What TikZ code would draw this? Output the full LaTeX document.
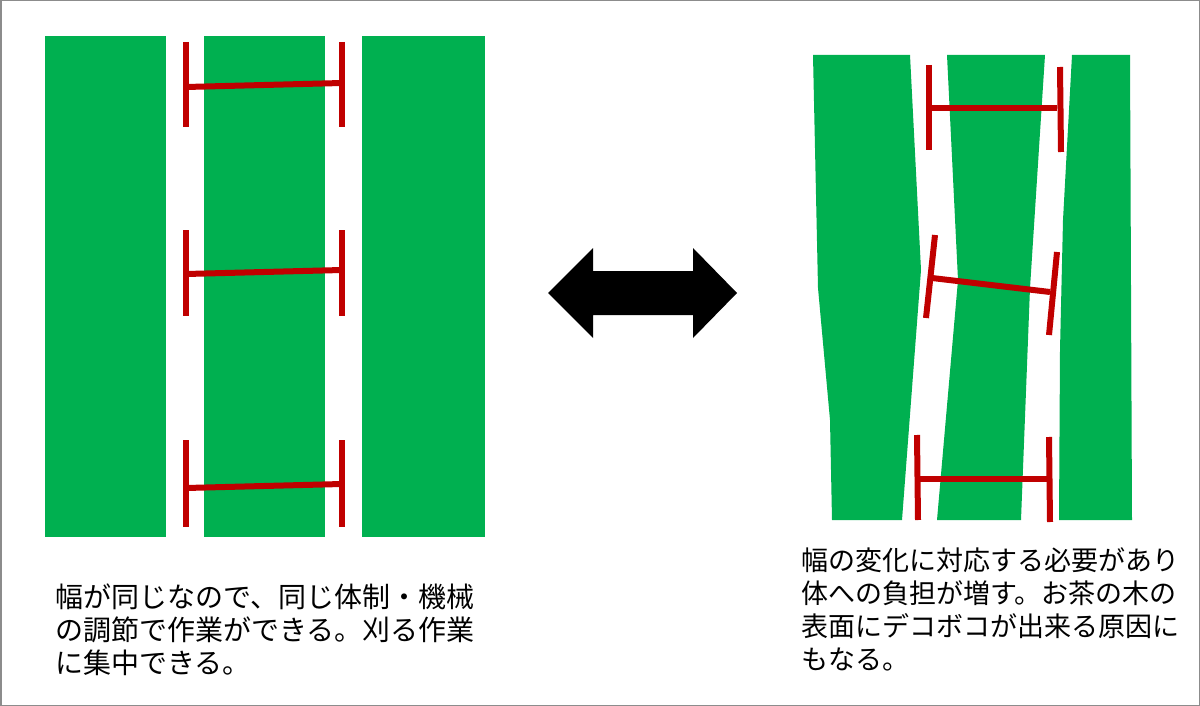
\documentclass[tikz,border=0pt]{standalone}
\usepackage{fontspec}
\newfontfamily\jpfont{Noto Sans CJK JP}
\usetikzlibrary{calc}
\definecolor{rowgreen}{RGB}{0,176,80}
\definecolor{markred}{RGB}{192,0,0}

\begin{document}
\begin{tikzpicture}[x=1pt,y=-1pt,
  row/.style={fill=rowgreen},
  gauge/.style={draw=markred,line width=6pt},
  note/.style={anchor=base west,inner sep=0pt,align=left,
    font=\jpfont\fontsize{27}{33}\selectfont}]
  \useasboundingbox (0,0) rectangle (1200,706);
  \draw[black!45,line width=1.5pt](0.75,0.75) rectangle (1199.25,705.25);

  % left: straight rows
  \fill[row](45,36) rectangle (166,537);
  \fill[row](204,36) rectangle (325,537);
  \fill[row](362,36) rectangle (485,537);
  \foreach \t/\m/\b in {42/85/127, 230/272/316, 440/486/527}{
    \draw[gauge](186,\t)--(186,\b);
    \draw[gauge](342,\t)--(342,\b);
    \draw[gauge](186,\m+2)--(342,\m-2);
  }

  % double arrow
  \fill[black](548,293)--(593,248)--(593,271)--(693,271)--(693,248)
    --(737,293)--(693,338)--(693,315)--(593,315)--(593,338)--cycle;

  % right: uneven rows
  \fill[row](813,55)--(910,55)--(921,270)--(902,520)--(832,520)
    --(830,420)--(818,288)--cycle;
  \fill[row](947,55)--(1045,55)--(1030,288)--(1021,520)--(937,520)
    --(958,280)--cycle;
  \fill[row](1072,55)--(1130,55)--(1132,520)--(1059,520)--(1060,350)
    --(1063,220)--cycle;
  \draw[gauge](929,65)--(929,150);
  \draw[gauge](1060,67)--(1061,152);
  \draw[gauge](929,108)--(1057,108);
  \draw[gauge](935,235)--(926,318);
  \draw[gauge](1057,252)--(1049,335);
  \draw[gauge](932,278)--(1050,292);
  \draw[gauge](917,435)--(918,520);
  \draw[gauge](1049,437)--(1050,522);
  \draw[gauge](918,479)--(1048,479);

  \node[note,font=\jpfont\fontsize{28}{33}\selectfont] (lefttext) at (55,673)
    {幅が同じなので、同じ体制・機械\\の調節で作業ができる。刈る作業\\に集中できる。};
  \node[note] (righttext) at (801,669)
    {幅の変化に対応する必要があり\\体への負担が増す。お茶の木の\\表面にデコボコが出来る原因に\\もなる。};
\end{tikzpicture}
\end{document}
